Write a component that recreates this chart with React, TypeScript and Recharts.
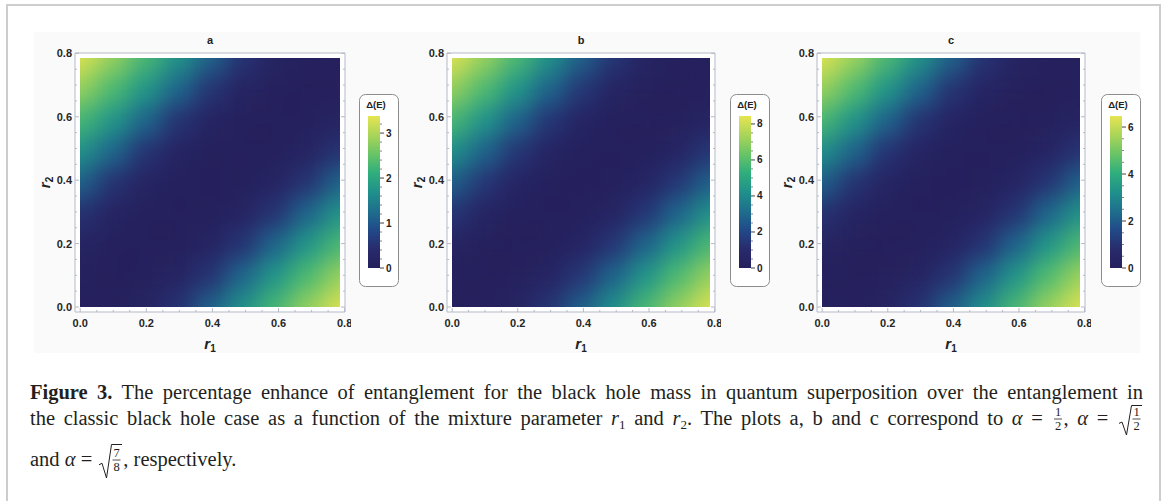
import React from "react";
import {
    ScatterChart,
    Scatter,
    XAxis,
    YAxis,
    ReferenceArea,
    CartesianGrid,
} from "recharts";

// grid of mixture parameters (0 .. pi/4), shared by r1 and r2
const rGrid = [0, 0.0982, 0.1963, 0.2945, 0.3927, 0.4909, 0.589, 0.6872, 0.7854];
const axisTicks = [0, 0.2, 0.4, 0.6, 0.8];
const axisMinorTicks = [0.05, 0.1, 0.15, 0.25, 0.3, 0.35, 0.45, 0.5, 0.55, 0.65, 0.7, 0.75];
const panelTitles = ["a", "b", "c"];

// Δ(E) values, rows go from r2 = 0 (bottom) up to r2 = pi/4, columns follow r1
const valuesA = [
    [0.0, 0.03, 0.14, 0.52, 1.15, 1.75, 2.3, 2.85, 3.36],
    [0.03, 0.0, 0.03, 0.15, 0.53, 1.16, 1.76, 2.32, 2.86],
    [0.14, 0.03, 0.0, 0.03, 0.15, 0.54, 1.17, 1.77, 2.33],
    [0.52, 0.15, 0.03, 0.0, 0.03, 0.15, 0.54, 1.17, 1.78],
    [1.15, 0.53, 0.15, 0.03, 0.0, 0.03, 0.15, 0.55, 1.18],
    [1.75, 1.16, 0.54, 0.15, 0.03, 0.0, 0.03, 0.15, 0.55],
    [2.3, 1.76, 1.17, 0.54, 0.15, 0.03, 0.0, 0.03, 0.15],
    [2.85, 2.32, 1.77, 1.17, 0.55, 0.15, 0.03, 0.0, 0.03],
    [3.36, 2.86, 2.33, 1.78, 1.18, 0.55, 0.15, 0.03, 0.0],
];
const valuesB = [
    [0.0, 0.07, 0.38, 1.4, 2.8, 4.3, 5.8, 7.1, 8.42],
    [0.07, 0.0, 0.07, 0.39, 1.42, 2.82, 4.32, 5.82, 7.15],
    [0.38, 0.07, 0.0, 0.07, 0.39, 1.43, 2.84, 4.35, 5.85],
    [1.4, 0.39, 0.07, 0.0, 0.07, 0.4, 1.44, 2.85, 4.36],
    [2.8, 1.42, 0.39, 0.07, 0.0, 0.07, 0.4, 1.45, 2.86],
    [4.3, 2.82, 1.43, 0.4, 0.07, 0.0, 0.07, 0.4, 1.45],
    [5.8, 4.32, 2.84, 1.44, 0.4, 0.07, 0.0, 0.07, 0.4],
    [7.1, 5.82, 4.35, 2.85, 1.45, 0.4, 0.07, 0.0, 0.07],
    [8.42, 7.15, 5.85, 4.36, 2.86, 1.45, 0.4, 0.07, 0.0],
];
const valuesC = [
    [0.0, 0.05, 0.28, 1.0, 2.15, 3.3, 4.45, 5.5, 6.45],
    [0.05, 0.0, 0.05, 0.29, 1.02, 2.17, 3.32, 4.47, 5.55],
    [0.28, 0.05, 0.0, 0.05, 0.29, 1.03, 2.19, 3.35, 4.5],
    [1.0, 0.29, 0.05, 0.0, 0.05, 0.3, 1.04, 2.2, 3.37],
    [2.15, 1.02, 0.29, 0.05, 0.0, 0.05, 0.3, 1.05, 2.21],
    [3.3, 2.17, 1.03, 0.3, 0.05, 0.0, 0.05, 0.3, 1.05],
    [4.45, 3.32, 2.19, 1.04, 0.3, 0.05, 0.0, 0.05, 0.3],
    [5.5, 4.47, 3.35, 2.2, 1.05, 0.3, 0.05, 0.0, 0.05],
    [6.45, 5.55, 4.5, 3.37, 2.21, 1.05, 0.3, 0.05, 0.0],
];

// colour bar ranges and ticks
const barMaxA = 3.38;
const barTicksA = [0, 1, 2, 3];
const barMinorA = [0.2, 0.4, 0.6, 0.8, 1.2, 1.4, 1.6, 1.8, 2.2, 2.4, 2.6, 2.8, 3.2];
const barMaxB = 8.44;
const barTicksB = [0, 2, 4, 6, 8];
const barMinorB = [0.5, 1, 1.5, 2.5, 3, 3.5, 4.5, 5, 5.5, 6.5, 7, 7.5];
const barMaxC = 6.47;
const barTicksC = [0, 2, 4, 6];
const barMinorC = [0.5, 1, 1.5, 2.5, 3, 3.5, 4.5, 5, 5.5];

const palette = [
    "#25205d",
    "#282b6c",
    "#214a88",
    "#1e6f8d",
    "#1f918b",
    "#2fae7c",
    "#69c466",
    "#aad559",
    "#e6e450",
];

const DOMAIN: [number, number] = [-0.0157, 0.8011];
const CH = 330;
const FRAME = "#b5b9c6";
const INK = "#231f20";
const SANS = '"Liberation Sans", Arial, sans-serif';
const SERIF = '"Liberation Serif", "Times New Roman", serif';

const hexToRgb = (h: string) => [
    parseInt(h.slice(1, 3), 16),
    parseInt(h.slice(3, 5), 16),
    parseInt(h.slice(5, 7), 16),
];

const heatColor = (t: number) => {
    const u = Math.max(0, Math.min(1, t)) * (palette.length - 1);
    const i = Math.min(palette.length - 2, Math.floor(u));
    const f = u - i;
    const a = hexToRgb(palette[i]);
    const b = hexToRgb(palette[i + 1]);
    const c = a.map((v, k) => Math.round(v + (b[k] - v) * f));
    return `rgb(${c[0]},${c[1]},${c[2]})`;
};

const cellEdges = (k: number) => {
    const last = rGrid.length - 1;
    const lo = k === 0 ? rGrid[0] : (rGrid[k - 1] + rGrid[k]) / 2;
    const hi = k === last ? rGrid[last] : (rGrid[k] + rGrid[k + 1]) / 2;
    return [lo, hi];
};

const buildCells = (values: number[][], max: number) => {
    const cells: any[] = [];
    values.forEach((row, i) => {
        row.forEach((v, j) => {
            const [x1, x2] = cellEdges(j);
            const [y1, y2] = cellEdges(i);
            cells.push({
                r1: rGrid[j],
                r2: rGrid[i],
                value: v,
                x1,
                x2,
                y1,
                y2,
                fill: heatColor(v / max),
            });
        });
    });
    return cells;
};

const FrameTick = (props: any) => {
    const { x, y, payload, side } = props;
    const v = payload.value;
    const major = axisTicks.includes(v);
    const len = major ? 4 : 2;
    const label = v.toFixed(1);
    const txt = {
        fontFamily: SANS,
        fontSize: 11,
        fontWeight: 700,
        fill: "#262626",
    };
    if (side === "bottom") {
        return (
            <g>
                <line x1={x} x2={x} y1={y} y2={y - len} stroke={FRAME} />
                {major && (
                    <text x={x} y={y + 15} textAnchor="middle" {...txt}>
                        {label}
                    </text>
                )}
            </g>
        );
    }
    if (side === "top") {
        return <line x1={x} x2={x} y1={y} y2={y + len} stroke={FRAME} />;
    }
    if (side === "left") {
        return (
            <g>
                <line x1={x} x2={x + len} y1={y} y2={y} stroke={FRAME} />
                {major && (
                    <text x={x - 3} y={y + 4} textAnchor="end" {...txt}>
                        {label}
                    </text>
                )}
            </g>
        );
    }
    return <line x1={x} x2={x - len} y1={y} y2={y} stroke={FRAME} />;
};

const frameTicks = [...axisTicks, ...axisMinorTicks].sort((a, b) => a - b);

const FrameLayer = ({ width, title }: { width: number; title: string }) => (
    <ScatterChart width={width} height={CH} margin={{ top: 0, right: 0, bottom: 0, left: 0 }}>
        <CartesianGrid fill="#ffffff" horizontal={false} vertical={false} stroke="none" />
        <XAxis
            type="number"
            dataKey="r1"
            domain={DOMAIN}
            allowDataOverflow
            ticks={frameTicks}
            interval={0}
            height={50}
            tickSize={0}
            tickMargin={0}
            tickLine={false}
            axisLine={{ stroke: FRAME }}
            tick={(p: any) => <FrameTick {...p} side="bottom" />}
            label={{
                content: (p: any) => {
                    const vb = p.viewBox;
                    return (
                        <text
                            x={vb.x + vb.width / 2}
                            y={vb.y + 37}
                            textAnchor="middle"
                            fontFamily={SANS}
                            fontWeight={700}
                            fontStyle="italic"
                            fontSize={15}
                            fill="#222"
                        >
                            r
                            <tspan fontSize={10} fontStyle="normal" dy={3}>
                                1
                            </tspan>
                        </text>
                    );
                },
            }}
        />
        <XAxis
            xAxisId="top"
            orientation="top"
            type="number"
            domain={DOMAIN}
            allowDataOverflow
            ticks={frameTicks}
            interval={0}
            height={21}
            tickSize={0}
            tickMargin={0}
            tickLine={false}
            axisLine={{ stroke: FRAME }}
            tick={(p: any) => <FrameTick {...p} side="top" />}
            label={{
                content: (p: any) => {
                    const vb = p.viewBox;
                    return (
                        <text
                            x={vb.x + vb.width / 2}
                            y={vb.y + 12}
                            textAnchor="middle"
                            fontFamily={SANS}
                            fontWeight={700}
                            fontSize={11}
                            fill="#222"
                        >
                            {title}
                        </text>
                    );
                },
            }}
        />
        <YAxis
            type="number"
            dataKey="r2"
            domain={DOMAIN}
            allowDataOverflow
            ticks={frameTicks}
            interval={0}
            width={41}
            tickSize={0}
            tickMargin={0}
            tickLine={false}
            axisLine={{ stroke: FRAME }}
            tick={(p: any) => <FrameTick {...p} side="left" />}
            label={{
                content: (p: any) => {
                    const vb = p.viewBox;
                    const cx = vb.x + 16;
                    const cy = vb.y + vb.height / 2;
                    return (
                        <text
                            x={cx}
                            y={cy}
                            transform={`rotate(-90 ${cx} ${cy})`}
                            textAnchor="middle"
                            fontFamily={SANS}
                            fontWeight={700}
                            fontStyle="italic"
                            fontSize={15}
                            fill="#222"
                        >
                            r
                            <tspan fontSize={10} fontStyle="normal" dy={3}>
                                2
                            </tspan>
                        </text>
                    );
                },
            }}
        />
        <YAxis
            yAxisId="right"
            orientation="right"
            type="number"
            domain={DOMAIN}
            allowDataOverflow
            ticks={frameTicks}
            interval={0}
            width={6}
            tickSize={0}
            tickMargin={0}
            tickLine={false}
            axisLine={{ stroke: FRAME }}
            tick={(p: any) => <FrameTick {...p} side="right" />}
        />
        <Scatter data={[]} isAnimationActive={false} />
    </ScatterChart>
);

const HeatLayer = ({ width, values, max }: { width: number; values: number[][]; max: number }) => {
    const cells = buildCells(values, max);
    return (
        <ScatterChart width={width} height={CH} margin={{ top: 21, right: 6, bottom: 50, left: 41 }}>
            <XAxis type="number" dataKey="r1" domain={DOMAIN} allowDataOverflow hide />
            <YAxis type="number" dataKey="r2" domain={DOMAIN} allowDataOverflow hide />
            <Scatter data={cells} isAnimationActive={false} shape={() => <g />} />
            {cells.map((c, k) => (
                <ReferenceArea
                    key={k}
                    x1={c.x1}
                    x2={c.x2}
                    y1={c.y1}
                    y2={c.y2}
                    fill={c.fill}
                    fillOpacity={1}
                    stroke="none"
                    ifOverflow="visible"
                />
            ))}
        </ScatterChart>
    );
};

const ColorBar = ({
    left,
    max,
    ticks,
    minor,
    id,
}: {
    left: number;
    max: number;
    ticks: number[];
    minor: number[];
    id: string;
}) => {
    const boxW = 39;
    const boxH = 192;
    const barX = 9;
    const barW = 12;
    const barTop = 22;
    const barH = 152;
    const yOf = (v: number) => barTop + barH - (v / max) * barH;
    return (
        <svg
            width={boxW + 2}
            height={boxH + 2}
            style={{ position: "absolute", left, top: 94 }}
        >
            <defs>
                <linearGradient id={id} x1="0" y1="1" x2="0" y2="0">
                    {palette.map((c, i) => (
                        <stop key={i} offset={i / (palette.length - 1)} stopColor={c} />
                    ))}
                </linearGradient>
            </defs>
            <rect
                x={0.5}
                y={0.5}
                width={boxW}
                height={boxH}
                rx={6}
                fill="#ffffff"
                stroke="#8c8c8c"
            />
            <text
                x={barX + barW / 2 + 2}
                y={14}
                textAnchor="middle"
                fontFamily={SANS}
                fontWeight={700}
                fontSize={9.5}
                fill="#222"
            >
                Δ(E)
            </text>
            <rect x={barX} y={barTop} width={barW} height={barH} fill={`url(#${id})`} />
            {minor.map((v) => (
                <line
                    key={"m" + v}
                    x1={barX + barW}
                    x2={barX + barW + 2}
                    y1={yOf(v)}
                    y2={yOf(v)}
                    stroke="#666"
                    strokeWidth={0.8}
                />
            ))}
            {ticks.map((v) => (
                <g key={"t" + v}>
                    <line
                        x1={barX + barW}
                        x2={barX + barW + 4}
                        y1={yOf(v)}
                        y2={yOf(v)}
                        stroke="#444"
                    />
                    <text
                        x={barX + barW + 6}
                        y={yOf(v) + 3.5}
                        fontFamily={SANS}
                        fontWeight={700}
                        fontSize={10}
                        fill="#222"
                    >
                        {v}
                    </text>
                </g>
            ))}
        </svg>
    );
};

// small inline maths for the caption
const Frac = ({ n, d }: { n: string; d: string }) => (
    <svg
        width={10}
        height={28}
        style={{ verticalAlign: "-8px", margin: "-10px 1px 0 1px" }}
    >
        <text x={5} y={11} textAnchor="middle" fontSize={12.5} fontFamily={SERIF} fill={INK}>
            {n}
        </text>
        <line x1={1} x2={9} y1={14} y2={14} stroke={INK} strokeWidth={0.8} />
        <text x={5} y={25} textAnchor="middle" fontSize={12.5} fontFamily={SERIF} fill={INK}>
            {d}
        </text>
    </svg>
);

const SqrtFrac = ({ n, d, h }: { n: string; d: string; h: number }) => {
    const bar = h / 2 - 1;
    return (
        <svg
            width={24}
            height={h}
            style={{
                verticalAlign: `${-(h - bar - 6)}px`,
                margin: `${-h / 2}px 1px 0 1px`,
            }}
        >
            <path
                d={`M1 ${h * 0.6} L4 ${h * 0.56} L8.5 ${h - 2} L13.5 2.5 L24 2.5`}
                fill="none"
                stroke={INK}
                strokeWidth={1}
            />
            <text x={18.5} y={bar - 3} textAnchor="middle" fontSize={12.5} fontFamily={SERIF} fill={INK}>
                {n}
            </text>
            <line x1={14.5} x2={22.5} y1={bar} y2={bar} stroke={INK} strokeWidth={0.8} />
            <text x={18.5} y={bar + 11} textAnchor="middle" fontSize={12.5} fontFamily={SERIF} fill={INK}>
                {d}
            </text>
        </svg>
    );
};

const Sub = ({ children }: { children: React.ReactNode }) => (
    <span style={{ fontSize: 13, verticalAlign: "-4px", lineHeight: 0 }}>{children}</span>
);

const lineStyle: React.CSSProperties = {
    position: "absolute",
    left: 30,
    width: 1113,
    height: 26,
    lineHeight: "26px",
    textAlign: "justify",
    textAlignLast: "justify",
};

const panelLefts = [34, 406, 776];
const panelWidths = [317, 315, 315];
const barLefts = [359, 730, 1101];

export default function App() {
    const panels = [
        { values: valuesA, max: barMaxA, ticks: barTicksA, minor: barMinorA },
        { values: valuesB, max: barMaxB, ticks: barTicksB, minor: barMinorB },
        { values: valuesC, max: barMaxC, ticks: barTicksC, minor: barMinorC },
    ];
    return (
        <div
            style={{
                position: "absolute",
                left: 0,
                top: 0,
                width: 1167,
                height: 501,
                overflow: "hidden",
                background: "#ffffff",
            }}
        >
            <svg width={0} height={0} style={{ position: "absolute" }}>
                <defs>
                    <filter
                        id="heatSmooth"
                        x="-5%"
                        y="-5%"
                        width="110%"
                        height="110%"
                        colorInterpolationFilters="sRGB"
                    >
                        <feGaussianBlur in="SourceGraphic" stdDeviation="11" result="blur" />
                        <feComponentTransfer in="blur" result="norm">
                            <feFuncA type="table" tableValues="0 1 1 1 1 1 1 1 1 1 1 1 1 1 1 1 1 1 1 1" />
                        </feComponentTransfer>
                        <feComponentTransfer in="SourceAlpha" result="mask">
                            <feFuncA type="table" tableValues="0 1 1 1 1 1 1 1 1 1" />
                        </feComponentTransfer>
                        <feComposite in="norm" in2="mask" operator="in" />
                    </filter>
                </defs>
            </svg>
            <div
                style={{
                    position: "absolute",
                    left: 6,
                    top: 4,
                    width: 1155,
                    height: 600,
                    border: "2px solid #cdcdcd",
                    boxSizing: "border-box",
                }}
            />
            <div
                style={{
                    position: "absolute",
                    left: 34,
                    top: 32,
                    width: 1106,
                    height: 321,
                    background: "#fafafa",
                }}
            />
            {panels.map((p, i) => (
                <div
                    key={i}
                    style={{
                        position: "absolute",
                        left: panelLefts[i],
                        top: 32,
                        width: panelWidths[i],
                        height: CH,
                    }}
                >
                    <div style={{ position: "absolute", left: 0, top: 0 }}>
                        <FrameLayer width={panelWidths[i]} title={panelTitles[i]} />
                    </div>
                    <div
                        style={{
                            position: "absolute",
                            left: 0,
                            top: 0,
                            filter: "url(#heatSmooth)",
                            pointerEvents: "none",
                        }}
                    >
                        <HeatLayer width={panelWidths[i]} values={p.values} max={p.max} />
                    </div>
                </div>
            ))}
            {panels.map((p, i) => (
                <ColorBar
                    key={"cb" + i}
                    id={"grad" + i}
                    left={barLefts[i]}
                    max={p.max}
                    ticks={p.ticks}
                    minor={p.minor}
                />
            ))}
            <div style={{ fontFamily: SERIF, fontSize: 20.5, color: INK }}>
                <div style={{ ...lineStyle, top: 379 }}>
                    <b>Figure 3.</b> The percentage enhance of entanglement for the black hole mass in quantum
                    superposition over the entanglement in
                </div>
                <div style={{ ...lineStyle, top: 405 }}>
                    the classic black hole case as a function of the mixture parameter <i>r</i>
                    <Sub>1</Sub> and <i>r</i>
                    <Sub>2</Sub>. The plots a, b and c correspond to <i>α</i> = <Frac n="1" d="2" />,{" "}
                    <i>α</i> = <SqrtFrac n="1" d="2" h={34} />
                </div>
                <div style={{ ...lineStyle, top: 446, textAlign: "left", textAlignLast: "left" }}>
                    and <i>α</i> = <SqrtFrac n="7" d="8" h={38} />, respectively.
                </div>
            </div>
        </div>
    );
}
